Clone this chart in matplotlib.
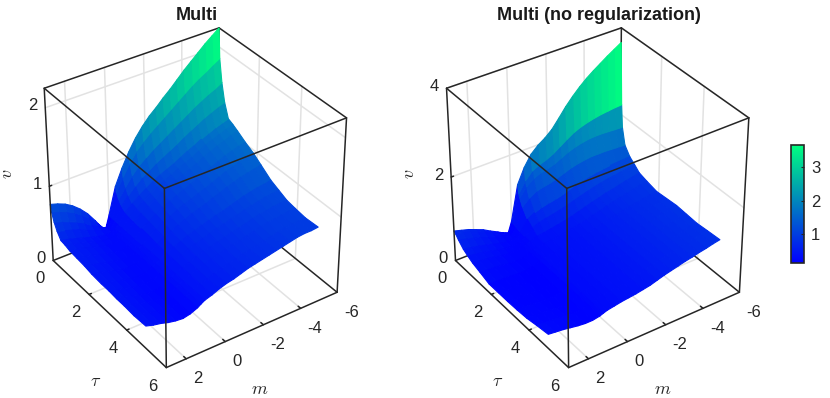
import numpy as np
import matplotlib
matplotlib.use('Agg')
import matplotlib.pyplot as plt
from matplotlib import colors
from matplotlib.cm import ScalarMappable
from mpl_toolkits.mplot3d import proj3d

m_values = [3, 2.625, 2.25, 1.875, 1.5, 1.125, .75, .375, .2, 0, -.375, -.75, -1.125, -1.5, -1.875, -2.25, -2.625,
            -3, -3.375, -3.75, -4.125, -4.5, -4.875, -5.25, -5.625, -6]
m_ticks = [2, 0, -2, -4, -6]
tau_ticks = [0, 2, 4, 6]
z_ticks_left = [0, 1, 2]
z_ticks_right = [0, 2, 4]
colorbar_ticks = [1, 2, 3]

tau_left = [0, .05, .17, .32, .52, .75, 1, 1.4, 1.8, 2.2, 2.7, 3.1, 3.5, 3.9, 4.4, 5]
v_left = [
    [.76,.73,.69,.63,.55,.45,.32,.18,.15,.32,.67,.88,1.06,1.21,1.33,1.43,1.51,1.60,1.68,1.77,1.86,1.94,2.02,2.10,2.17,2.24],
    [.67,.64,.60,.55,.48,.40,.30,.19,.18,.31,.60,.77,.92,1.05,1.14,1.22,1.29,1.36,1.43,1.50,1.57,1.64,1.70,1.75,1.81,1.86],
    [.56,.53,.49,.45,.40,.33,.27,.21,.21,.31,.53,.66,.78,.88,.95,1.02,1.08,1.14,1.20,1.26,1.32,1.38,1.43,1.48,1.52,1.57],
    [.47,.44,.41,.38,.33,.29,.25,.22,.23,.31,.47,.58,.67,.75,.81,.87,.92,.97,1.02,1.08,1.13,1.18,1.23,1.27,1.31,1.34],
    [.39,.37,.34,.31,.28,.25,.23,.23,.25,.31,.43,.51,.58,.64,.70,.75,.79,.83,.88,.93,.97,1.02,1.06,1.10,1.13,1.16],
    [.38,.35,.33,.30,.27,.24,.23,.24,.26,.31,.42,.49,.56,.62,.67,.72,.76,.81,.85,.89,.94,.99,1.02,1.06,1.09,1.13],
    [.36,.34,.32,.29,.26,.23,.23,.24,.26,.31,.41,.48,.54,.60,.65,.69,.74,.78,.82,.86,.91,.95,.99,1.02,1.06,1.09],
    [.35,.33,.31,.28,.25,.23,.22,.24,.26,.31,.40,.46,.52,.57,.62,.66,.70,.74,.78,.82,.86,.90,.94,.97,1.00,1.02],
    [.34,.31,.29,.26,.24,.22,.22,.24,.27,.31,.39,.44,.50,.54,.59,.63,.66,.70,.73,.77,.81,.85,.88,.91,.93,.96],
    [.32,.30,.28,.25,.22,.21,.22,.25,.27,.31,.37,.43,.47,.51,.55,.59,.62,.65,.69,.72,.76,.79,.82,.84,.86,.88],
    [.31,.29,.26,.24,.21,.20,.21,.25,.28,.31,.36,.40,.44,.48,.51,.54,.57,.60,.62,.65,.68,.71,.73,.75,.76,.78],
    [.31,.28,.26,.23,.21,.20,.21,.25,.28,.31,.36,.39,.43,.46,.49,.52,.55,.57,.60,.62,.65,.67,.69,.71,.72,.73],
    [.30,.28,.25,.22,.20,.19,.21,.25,.28,.31,.35,.38,.42,.45,.47,.50,.52,.55,.57,.59,.62,.64,.65,.67,.68,.68],
    [.30,.27,.25,.22,.20,.19,.21,.25,.28,.31,.35,.38,.41,.44,.46,.49,.51,.53,.55,.58,.60,.62,.63,.64,.65,.66],
    [.29,.27,.24,.22,.20,.19,.21,.25,.28,.31,.34,.37,.40,.43,.45,.48,.50,.52,.54,.56,.58,.60,.62,.63,.63,.64],
    [.30,.27,.25,.22,.20,.19,.21,.25,.28,.31,.34,.38,.41,.43,.46,.49,.51,.53,.55,.57,.59,.61,.63,.64,.64,.65],
]

tau_right = [0, .05, .1, .24, .5, .75, 1, 1.4, 1.9, 2.4, 2.9, 3.4, 3.9, 4.4, 5]
v_right = [
    [.72,.67,.62,.55,.48,.38,.29,.19,.16,.42,1.24,1.59,1.84,1.99,2.10,2.24,2.44,2.65,2.83,2.99,3.13,3.25,3.36,3.47,3.57,3.67],
    [.70,.65,.59,.52,.44,.36,.28,.21,.18,.40,1.04,1.29,1.46,1.54,1.60,1.68,1.79,1.90,2.00,2.07,2.12,2.16,2.19,2.21,2.23,2.24],
    [.68,.63,.57,.50,.43,.35,.27,.21,.19,.39,.95,1.16,1.29,1.36,1.40,1.45,1.53,1.61,1.67,1.71,1.74,1.75,1.75,1.74,1.73,1.72],
    [.60,.55,.50,.45,.38,.31,.26,.22,.22,.37,.79,.94,1.04,1.08,1.11,1.16,1.22,1.28,1.32,1.35,1.37,1.37,1.37,1.36,1.35,1.34],
    [.48,.45,.41,.37,.32,.27,.24,.24,.24,.34,.59,.68,.74,.78,.81,.85,.91,.97,1.01,1.05,1.08,1.10,1.12,1.13,1.14,1.15],
    [.41,.39,.36,.32,.28,.24,.23,.24,.26,.33,.48,.54,.58,.61,.65,.69,.74,.79,.84,.88,.92,.95,.97,1.00,1.02,1.05],
    [.35,.33,.31,.28,.24,.22,.22,.25,.28,.31,.37,.39,.42,.45,.48,.52,.57,.62,.67,.71,.76,.79,.83,.87,.90,.94],
    [.29,.27,.26,.24,.21,.20,.21,.26,.29,.31,.35,.37,.39,.42,.45,.48,.52,.57,.61,.66,.70,.74,.78,.81,.85,.88],
    [.21,.20,.20,.19,.17,.17,.20,.27,.31,.31,.34,.37,.39,.41,.44,.47,.51,.56,.60,.64,.68,.71,.74,.77,.80,.82],
    [.21,.20,.20,.19,.17,.17,.20,.27,.31,.31,.34,.37,.39,.41,.44,.47,.51,.56,.60,.64,.68,.71,.75,.78,.81,.84],
    [.21,.20,.20,.19,.17,.17,.20,.27,.31,.31,.34,.37,.39,.41,.44,.47,.51,.56,.60,.64,.68,.72,.76,.79,.83,.86],
    [.22,.22,.21,.20,.18,.18,.21,.27,.31,.31,.34,.37,.39,.41,.44,.47,.51,.56,.60,.64,.68,.72,.75,.78,.81,.84],
    [.24,.23,.22,.21,.19,.18,.21,.26,.30,.31,.34,.37,.39,.41,.44,.47,.51,.56,.60,.64,.68,.71,.74,.77,.80,.82],
    [.29,.27,.26,.24,.21,.20,.21,.26,.29,.31,.34,.37,.39,.41,.44,.47,.52,.57,.61,.64,.68,.72,.75,.78,.81,.84],
    [.34,.32,.30,.27,.24,.22,.22,.25,.28,.31,.34,.37,.39,.41,.44,.47,.52,.57,.61,.65,.69,.72,.76,.79,.83,.86],
]

W, H = 830, 398
SIDE = 353.85
DARK = '#262626'
GRID = '#e2e2e2'


def panel(left_px, tau, v, zmax, z_ticks, title, vmin, vmax):
    ax = fig.add_axes([left_px / W, 24.04 / H, SIDE / W, SIDE / H], projection='3d')
    ax.computed_zorder = False
    ax.patch.set_alpha(0)
    ax.set_xlim(-6, 3)
    ax.set_ylim(0, 6)
    ax.set_zlim(0, zmax)
    ax.view_init(elev=34.5461, azim=55.3498)
    ax.set_proj_type('persp', focal_length=0.9934)
    ax.set_box_aspect((1, 1.0055, 1.0012))
    ax.set_axis_off()

    def line(xs, ys, zs, order, color=DARK, lw=1.1):
        ax.plot(xs, ys, zs, color=color, lw=lw, zorder=order, solid_capstyle='round')

    # Grid on the far walls and the floor
    for t in m_ticks[:-1]:
        line([t, t], [0, 0], [0, zmax], 1, GRID)
        line([t, t], [0, 6], [0, 0], 1, GRID)
    for t in tau_ticks[1:-1]:
        line([-6, -6], [t, t], [0, zmax], 1, GRID)
        line([-6, 3], [t, t], [0, 0], 1, GRID)
    for t in z_ticks[1:]:
        line([-6, 3], [0, 0], [t, t], 1, GRID)
        line([-6, -6], [0, 6], [t, t], 1, GRID)

    # Back edges go under the surface
    line([-6, -6], [0, 0], [0, zmax], 2)
    line([-6, 3], [0, 0], [0, 0], 2)
    line([-6, -6], [0, 6], [0, 0], 2)
    line([-6, 3], [0, 0], [zmax, zmax], 2)
    line([-6, -6], [0, 6], [zmax, zmax], 2)

    norm = colors.Normalize(vmin, vmax)
    Z = np.array(v)
    X, Y = np.meshgrid(m_values, tau)
    fc = plt.cm.winter(norm(Z))
    ax.plot_surface(X, Y, Z, facecolors=fc, shade=False, rstride=1, cstride=1,
                    linewidth=0.8, edgecolor=fc[:-1, :-1].reshape(-1, 4), antialiased=True, zorder=3)

    # Front edges go over it
    line([3, 3], [6, 6], [0, zmax], 4)
    line([3, 3], [0, 0], [0, zmax], 4)
    line([-6, -6], [6, 6], [0, zmax], 4)
    line([3, 3], [0, 6], [zmax, zmax], 4)
    line([-6, 3], [6, 6], [zmax, zmax], 4)
    line([3, 3], [0, 6], [0, 0], 4)
    line([-6, 3], [6, 6], [0, 0], 4)

    # Tick marks
    for t in m_ticks[:-1]:
        line([t, t], [6, 5.88], [0, 0], 4)
    for t in tau_ticks[1:-1]:
        line([3, 2.88], [t, t], [0, 0], 4)
    for t in z_ticks[1:-1]:
        line([3, 2.88], [0, 0], [t, t], 4)

    M = ax.get_proj()

    def label(x, y, z, s, off, **kw):
        vx, vy, _ = proj3d.proj_transform(x, y, z, M)
        ax.annotate(s, xy=(vx, vy), xycoords='data', xytext=off, textcoords='offset pixels',
                    color=DARK, annotation_clip=False, zorder=5, fontsize=12, va='center', **kw)

    for t in tau_ticks:
        label(3, t, 0, str(t), (-13.5, -18.5), ha='center')
    for t in m_ticks:
        label(t, 6, 0, str(t), (7, -20), ha='left')
    for t in z_ticks:
        label(3, 0, t, str(t), (-7.5, 2), ha='right')

    fig.text((left_px + 184.9) / W, 1 - 15 / H, title, ha='center', va='center', fontsize=13, fontweight='bold', color='#1a1a1a')
    fig.text((left_px - 4.5) / W, 1 - 174 / H, '$v$', ha='center', va='center', rotation=90, fontsize=13, color=DARK)
    fig.text((left_px + 83.9) / W, 1 - 381.7 / H, r'$\tau$', ha='center', va='center', fontsize=13, color=DARK)
    fig.text((left_px + 248.2) / W, 1 - 389.3 / H, '$m$', ha='center', va='center', fontsize=13, color=DARK)
    return norm


plt.rcParams['font.family'] = ['Liberation Sans', 'DejaVu Sans']
plt.rcParams['mathtext.fontset'] = 'cm'
fig = plt.figure(figsize=(W / 100, H / 100), dpi=100)
panel(11.83, tau_left, v_left, 2.24, z_ticks_left, 'Multi', 0.15, 2.24)
norm = panel(11.83 + 402.3, tau_right, v_right, 4, z_ticks_right, 'Multi (no regularization)', 0.165, 3.65)

cax = fig.add_axes([790.7 / W, 1 - 262.7 / H, 13.6 / W, 117.7 / H])
cb = fig.colorbar(ScalarMappable(norm=norm, cmap='winter'), cax=cax, ticks=colorbar_ticks)
cb.ax.tick_params(direction='in', length=2, width=0.8, labelsize=12, colors=DARK, pad=5)
cb.outline.set_edgecolor(DARK)
cb.outline.set_linewidth(1.2)
fig.savefig('out.png', dpi=100)
